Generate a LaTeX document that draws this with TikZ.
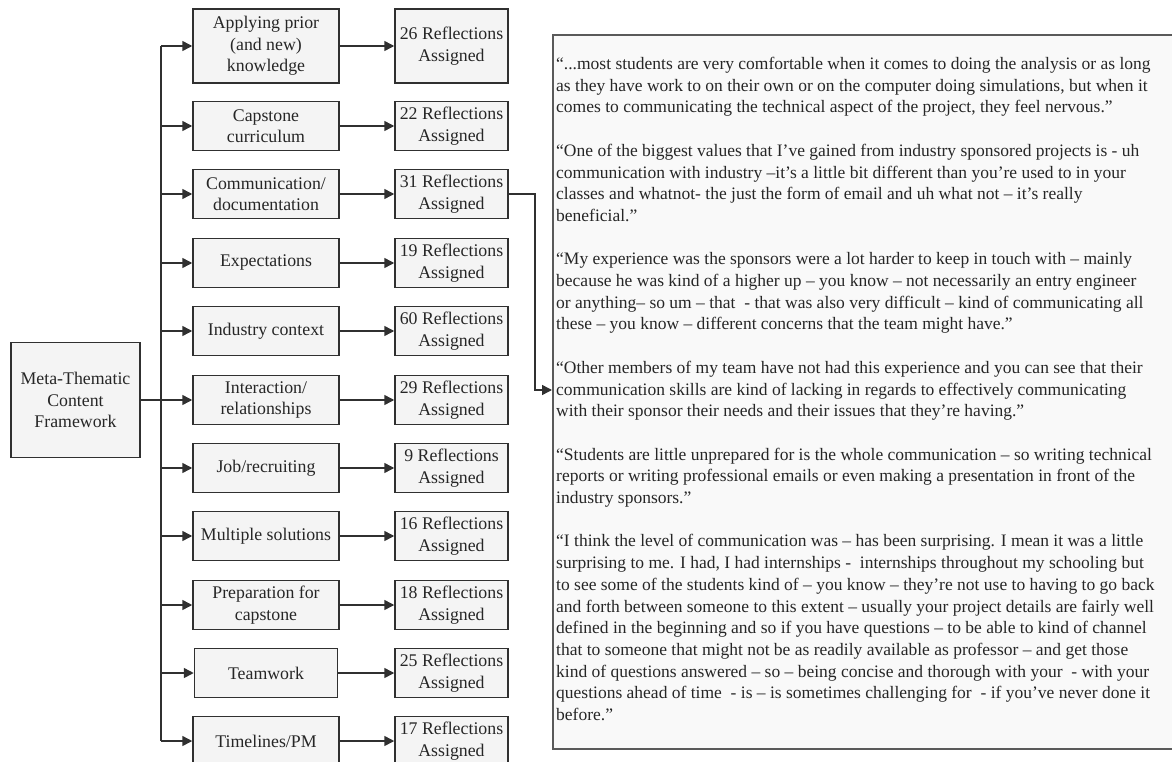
\documentclass[tikz,border=0pt]{standalone}
\usepackage{fontspec}
\setmainfont{Liberation Serif}
\usetikzlibrary{arrows.meta,calc,positioning}
\definecolor{boxgray}{HTML}{F4F4F4}
\definecolor{quotegray}{HTML}{F9F9F9}
\definecolor{linegray}{HTML}{303030}
\definecolor{framegray}{HTML}{5A5A5A}
\newcommand\boxfont{\fontsize{17.8}{21.5}\selectfont}
\newcommand\quotefont{\fontsize{17.5}{21.7}\selectfont}

\begin{document}
\begin{tikzpicture}[x=1pt,y=-1pt,
  box/.style={draw=linegray,fill=boxgray,line width=1.5pt,minimum width=146pt,minimum height=49pt,inner sep=0pt,align=center,font=\boxfont,text=black!85},
  refbox/.style={box,minimum width=113pt},
  line/.style={draw=linegray,line width=1.5pt},
  link/.style={line,-{Triangle[length=10pt,width=10pt]}}]
\useasboundingbox (0,0) rectangle (1172,762);
\fill[white] (0,0) rectangle (1172,762);
% framework and themes
\node[box,minimum width=129pt,minimum height=115pt] (meta) at (75.5,400) {Meta-Thematic\\Content\\Framework};
\node[box,minimum height=74pt] (cat1) at (266,46) {Applying prior\\(and new)\\knowledge};
\node[box] (cat2) at (266,126) {Capstone\\curriculum};
\node[box] (cat3) at (266,194) {Communication/\\documentation};
\node[box] (cat4) at (266,263) {Expectations};
\node[box] (cat5) at (266,331) {Industry context};
\node[box] (cat6) at (266,400) {Interaction/\\relationships};
\node[box] (cat7) at (266,468) {Job/recruiting};
\node[box] (cat8) at (266,536) {Multiple solutions};
\node[box] (cat9) at (266,605) {Preparation for\\capstone};
\node[box,minimum width=143pt] (cat10) at (266,673) {Teamwork};
\node[box] (cat11) at (266,741) {Timelines/PM};
% counts
\node[refbox,minimum height=74pt] (ref1) at (451.5,46) {26 Reflections\\Assigned};
\node[refbox] (ref2) at (451.5,126) {22 Reflections\\Assigned};
\node[refbox] (ref3) at (451.5,194) {31 Reflections\\Assigned};
\node[refbox] (ref4) at (451.5,263) {19 Reflections\\Assigned};
\node[refbox] (ref5) at (451.5,331) {60 Reflections\\Assigned};
\node[refbox] (ref6) at (451.5,400) {29 Reflections\\Assigned};
\node[refbox] (ref7) at (451.5,468) {9 Reflections\\Assigned};
\node[refbox] (ref8) at (451.5,536) {16 Reflections\\Assigned};
\node[refbox] (ref9) at (451.5,605) {18 Reflections\\Assigned};
\node[refbox] (ref10) at (451.5,673) {25 Reflections\\Assigned};
\node[refbox] (ref11) at (451.5,741) {17 Reflections\\Assigned};
% trunk
\coordinate (trunk) at (161,400);
\draw[line] (meta.east) -- (trunk);
\draw[line] (trunk |- cat1.west) -- (trunk |- cat11.west);
\draw[link] (trunk |- cat1.west) -- (cat1.west);
\draw[link] (trunk |- cat2.west) -- (cat2.west);
\draw[link] (trunk |- cat3.west) -- (cat3.west);
\draw[link] (trunk |- cat4.west) -- (cat4.west);
\draw[link] (trunk |- cat5.west) -- (cat5.west);
\draw[link] (trunk |- cat6.west) -- (cat6.west);
\draw[link] (trunk |- cat7.west) -- (cat7.west);
\draw[link] (trunk |- cat8.west) -- (cat8.west);
\draw[link] (trunk |- cat9.west) -- (cat9.west);
\draw[link] (trunk |- cat10.west) -- (cat10.west);
\draw[link] (trunk |- cat11.west) -- (cat11.west);
\draw[link] (cat1) -- (ref1);
\draw[link] (cat2) -- (ref2);
\draw[link] (cat3) -- (ref3);
\draw[link] (cat4) -- (ref4);
\draw[link] (cat5) -- (ref5);
\draw[link] (cat6) -- (ref6);
\draw[link] (cat7) -- (ref7);
\draw[link] (cat8) -- (ref8);
\draw[link] (cat9) -- (ref9);
\draw[link] (cat10) -- (ref10);
\draw[link] (cat11) -- (ref11);
% quotes
\node[draw=framegray,fill=quotegray,line width=2pt,minimum width=640pt,minimum height=714pt,anchor=north west,inner sep=0pt] (qbox) at (552,34) {};
\coordinate (qin) at (552,390);
\draw[link] (ref3.east) -- ++(26,0) |- (qin);
\node[anchor=north west,inner sep=0pt,align=left,font=\quotefont,text=black!85] (qtext) at (556,57) {%
“...most students are very comfortable when it comes to doing the analysis or as long\\
as they have work to on their own or on the computer doing simulations, but when it\\
comes to communicating the technical aspect of the project, they feel nervous.”\\[21.7pt]
“One of the biggest values that I’ve gained from industry sponsored projects is - uh\\
communication with industry –it’s a little bit different than you’re used to in your\\
classes and whatnot- the just the form of email and uh what not – it’s really\\
beneficial.”\\[21.7pt]
“My experience was the sponsors were a lot harder to keep in touch with – mainly\\
because he was kind of a higher up – you know – not necessarily an entry engineer\\
or anything– so um – that\ \ - that was also very difficult – kind of communicating all\\
these – you know – different concerns that the team might have.”\\[21.7pt]
“Other members of my team have not had this experience and you can see that their\\
communication skills are kind of lacking in regards to effectively communicating\\
with their sponsor their needs and their issues that they’re having.”\\[21.7pt]
“Students are little unprepared for is the whole communication – so writing technical\\
reports or writing professional emails or even making a presentation in front of the\\
industry sponsors.”\\[21.7pt]
“I think the level of communication was – has been surprising. I mean it was a little\\
surprising to me. I had, I had internships -\ \ internships throughout my schooling but\\
to see some of the students kind of – you know – they’re not use to having to go back\\
and forth between someone to this extent – usually your project details are fairly well\\
defined in the beginning and so if you have questions – to be able to kind of channel\\
that to someone that might not be as readily available as professor – and get those\\
kind of questions answered – so – being concise and thorough with your\ \ - with your\\
questions ahead of time\ \ - is – is sometimes challenging for\ \ - if you’ve never done it\\
before.”};
\end{tikzpicture}
\end{document}
